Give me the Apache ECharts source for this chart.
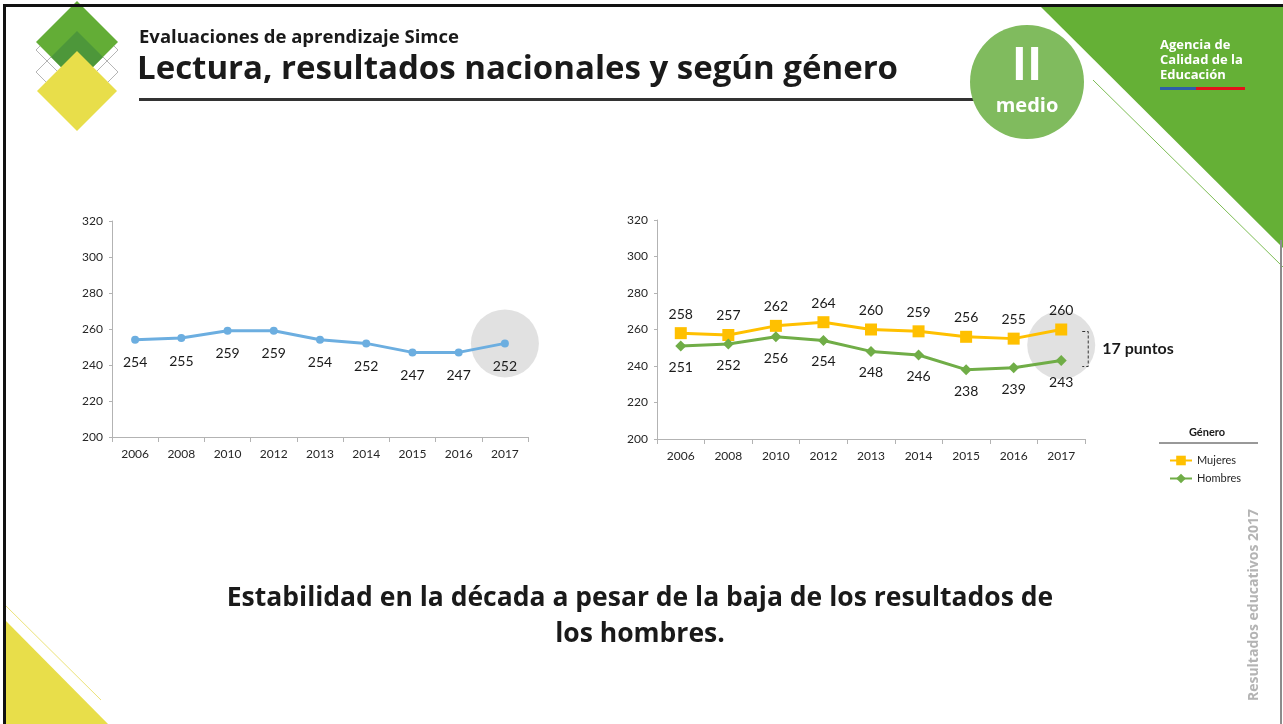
<!DOCTYPE html>
<html>
<head>
<meta charset="utf-8">
<script src="https://cdn.jsdelivr.net/npm/echarts@6/dist/echarts.min.js"></script>
<style>
  html, body { margin: 0; padding: 0; background: #ffffff; }
  #chart { width: 1283px; height: 724px; }
</style>
</head>
<body>
<div id="chart"></div>
<script>
// Simce Lectura II medio: resultados nacionales y por género
const years = ['2006', '2008', '2010', '2012', '2013', '2014', '2015', '2016', '2017'];
const nacional = [254, 255, 259, 259, 254, 252, 247, 247, 252];
const mujeres = [258, 257, 262, 264, 260, 259, 256, 255, 260];
const hombres = [251, 252, 256, 254, 248, 246, 238, 239, 243];
const yTicks = { min: 200, max: 320, interval: 20 };

const lastYear = years[years.length - 1];
const lastNac = nacional[nacional.length - 1];
const lastMuj = mujeres[mujeres.length - 1];
const lastHom = hombres[hombres.length - 1];
const brecha = lastMuj - lastHom;

const FONT = 'Lato, "Open Sans", sans-serif';
const axisGray = '#b3b3b3';

function xAxisCfg(gridIndex) {
  return {
    type: 'category', gridIndex, data: years, boundaryGap: true,
    axisLine: { lineStyle: { color: axisGray, width: 1 } },
    axisTick: { show: true, length: 5, lineStyle: { color: axisGray } },
    axisLabel: { color: '#262626', fontSize: 12, fontFamily: FONT, margin: 11 }
  };
}
function yAxisCfg(gridIndex) {
  return {
    type: 'value', gridIndex, min: yTicks.min, max: yTicks.max, interval: yTicks.interval,
    axisLine: { show: true, lineStyle: { color: axisGray, width: 1 } },
    axisTick: { show: true, length: 3, lineStyle: { color: axisGray } },
    splitLine: { show: false },
    axisLabel: { color: '#262626', fontSize: 12, fontFamily: FONT, margin: 9 }
  };
}

const chart = echarts.init(document.getElementById('chart'), null, { renderer: 'canvas' });

const option = {
  animation: false,
  backgroundColor: '#ffffff',
  textStyle: { fontFamily: FONT },
  grid: [
    { left: 112, top: 221, width: 416, height: 216 },
    { left: 657, top: 220, width: 428, height: 219 }
  ],
  xAxis: [xAxisCfg(0), xAxisCfg(1)],
  yAxis: [yAxisCfg(0), yAxisCfg(1)],
  legend: {
    data: ['Mujeres', 'Hombres'],
    orient: 'vertical', left: 1164, top: 450, itemGap: 7,
    itemWidth: 22, itemHeight: 12,
    textStyle: { fontSize: 11, color: '#262626', fontFamily: FONT }
  },
  series: [
    {
      name: 'destacado', type: 'scatter', xAxisIndex: 0, yAxisIndex: 0, z: 1, silent: true,
      symbol: 'circle', symbolSize: 68, itemStyle: { color: '#d9d9d9' },
      data: [[lastYear, lastNac]]
    },
    {
      name: 'destacado2', type: 'scatter', xAxisIndex: 1, yAxisIndex: 1, z: 1, silent: true,
      symbol: 'circle', symbolSize: 68, itemStyle: { color: '#d9d9d9' },
      data: [[lastYear, (lastMuj + lastHom) / 2]]
    },
    {
      name: 'Nacional', type: 'line', xAxisIndex: 0, yAxisIndex: 0, z: 3,
      data: nacional, symbol: 'circle', symbolSize: 8, showAllSymbol: true,
      lineStyle: { color: '#6caee0', width: 3 },
      itemStyle: { color: '#6caee0' },
      label: { show: true, position: 'bottom', distance: 12, fontSize: 14, color: '#1a1a1a', fontFamily: FONT }
    },
    {
      name: 'Mujeres', type: 'line', xAxisIndex: 1, yAxisIndex: 1, z: 3,
      data: mujeres, symbol: 'rect', symbolSize: 12, showAllSymbol: true,
      lineStyle: { color: '#ffc000', width: 3 },
      itemStyle: { color: '#ffc000' },
      label: { show: true, position: 'top', distance: 6, fontSize: 14, color: '#1a1a1a', fontFamily: FONT }
    },
    {
      name: 'Hombres', type: 'line', xAxisIndex: 1, yAxisIndex: 1, z: 3,
      data: hombres, symbol: 'diamond', symbolSize: 11, showAllSymbol: true,
      lineStyle: { color: '#70ad47', width: 3 },
      itemStyle: { color: '#70ad47' },
      label: { show: true, position: 'bottom', distance: 9, fontSize: 14, color: '#1a1a1a', fontFamily: FONT }
    }
  ]
};
chart.setOption(option);

// Decorations and annotations of the slide
const pTop = chart.convertToPixel({ gridIndex: 1 }, [lastYear, lastMuj]);
const pBot = chart.convertToPixel({ gridIndex: 1 }, [lastYear, lastHom]);
const bx = pTop[0] + 27;
const bTop = pTop[1] + 2;
const bBot = pBot[1] + 6;

const SLIDE_FONT = '"Open Sans", "DejaVu Sans", sans-serif';
const graphics = [
  // frame
  { type: 'rect', shape: { x: 3, y: 4, width: 1283, height: 3 }, style: { fill: '#111111' }, z: 50 },
  { type: 'rect', shape: { x: 3, y: 4, width: 3, height: 730 }, style: { fill: '#111111' }, z: 50 },
  { type: 'rect', shape: { x: 1280, y: 240, width: 2, height: 490 }, style: { fill: '#8c8c8c' }, z: 50 },
  // green corner top-right
  { type: 'polygon', shape: { points: [[1040, 6], [1283, 6], [1283, 248]] }, style: { fill: '#65b036' }, z: 2 },
  { type: 'line', shape: { x1: 1093, y1: 80, x2: 1283, y2: 267 }, style: { stroke: '#7dbd55', lineWidth: 1 }, z: 2 },
  // yellow corner bottom-left
  { type: 'polygon', shape: { points: [[5, 620], [110, 726], [5, 726]] }, style: { fill: '#e8de4a' }, z: 2 },
  { type: 'line', shape: { x1: 5, y1: 605, x2: 101, y2: 700 }, style: { stroke: '#ece37a', lineWidth: 1 }, z: 2 },
  // logo diamonds
  { type: 'polygon', shape: { points: [[77, 9], [118, 50], [77, 91], [36, 50]] }, style: { fill: 'none', stroke: '#b5b5b5', lineWidth: 1 }, z: 3 },
  { type: 'polygon', shape: { points: [[77, 31], [118, 72], [77, 113], [36, 72]] }, style: { fill: 'none', stroke: '#b5b5b5', lineWidth: 1 }, z: 3 },
  { type: 'polygon', shape: { points: [[77, 1], [118, 42], [77, 83], [36, 42]] }, style: { fill: '#63ad36' }, z: 4 },
  { type: 'polygon', shape: { points: [[77, 31], [103, 57], [77, 83], [51, 57]] }, style: { fill: '#4d973a' }, z: 5 },
  { type: 'polygon', shape: { points: [[77, 51], [117, 91], [77, 131], [37, 91]] }, style: { fill: '#e8de4a' }, z: 6 },
  // titles
  { type: 'text', left: 139, y: 38, style: { text: 'Evaluaciones de aprendizaje Simce', font: 'bold 18.5px ' + SLIDE_FONT, fill: '#1a1a1a', verticalAlign: 'middle' }, z: 10 },
  { type: 'text', left: 137, y: 70, style: { text: 'Lectura, resultados nacionales y según género', font: 'bold 33px ' + SLIDE_FONT, fill: '#1a1a1a', verticalAlign: 'middle' }, z: 10 },
  { type: 'rect', shape: { x: 139, y: 98, width: 840, height: 3 }, style: { fill: '#333333' }, z: 10 },
  // level badge
  { type: 'circle', shape: { cx: 1027, cy: 82, r: 57 }, style: { fill: '#80bb5e' }, z: 11 },
  { type: 'text', x: 1027, y: 67, style: { text: 'II', font: 'bold 46px ' + SLIDE_FONT, fill: '#ffffff', align: 'center', verticalAlign: 'middle' }, z: 12 },
  { type: 'text', x: 1027, y: 106, style: { text: 'medio', font: 'bold 20px ' + SLIDE_FONT, fill: '#ffffff', align: 'center', verticalAlign: 'middle' }, z: 12 },
  // agency mark
  { type: 'text', left: 1160, top: 38, style: { text: 'Agencia de\nCalidad de la\nEducación', font: 'bold 13px ' + SLIDE_FONT, lineHeight: 15, fill: '#ffffff' }, z: 12 },
  { type: 'rect', shape: { x: 1160, y: 87, width: 36, height: 3 }, style: { fill: '#2d5fa8' }, z: 12 },
  { type: 'rect', shape: { x: 1196, y: 87, width: 49, height: 3 }, style: { fill: '#e3121b' }, z: 12 },
  // gap bracket
  { type: 'polyline', shape: { points: [[bx - 6, bTop], [bx, bTop], [bx, bBot], [bx - 6, bBot]] }, style: { stroke: '#333333', lineWidth: 1, lineDash: [3, 2], fill: 'none' }, z: 12 },
  { type: 'text', left: bx + 14, y: (bTop + bBot) / 2, style: { text: brecha + ' puntos', font: 'bold 16px ' + FONT, fill: '#1a1a1a', verticalAlign: 'middle' }, z: 12 },
  // legend heading
  { type: 'text', x: 1207, y: 432, style: { text: 'Género', font: 'bold 11px ' + FONT, fill: '#1a1a1a', align: 'center', verticalAlign: 'middle' }, z: 12 },
  { type: 'line', shape: { x1: 1159, y1: 443, x2: 1258, y2: 443 }, style: { stroke: '#333333', lineWidth: 1 }, z: 12 },
  // side caption
  { type: 'text', x: 1254, y: 605, rotation: Math.PI / 2, style: { text: 'Resultados educativos 2017', font: 'bold 14px ' + SLIDE_FONT, fill: '#b4b4b4', align: 'center', verticalAlign: 'middle' }, z: 12 },
  // conclusion
  { type: 'text', x: 640, y: 598, style: { text: 'Estabilidad en la década a pesar de la baja de los resultados de', font: 'bold 26.5px ' + SLIDE_FONT, fill: '#1a1a1a', align: 'center', verticalAlign: 'middle' }, z: 12 },
  { type: 'text', x: 640, y: 634, style: { text: 'los hombres.', font: 'bold 26.5px ' + SLIDE_FONT, fill: '#1a1a1a', align: 'center', verticalAlign: 'middle' }, z: 12 }
];
chart.setOption({ graphic: graphics });
</script>
</body>
</html>
